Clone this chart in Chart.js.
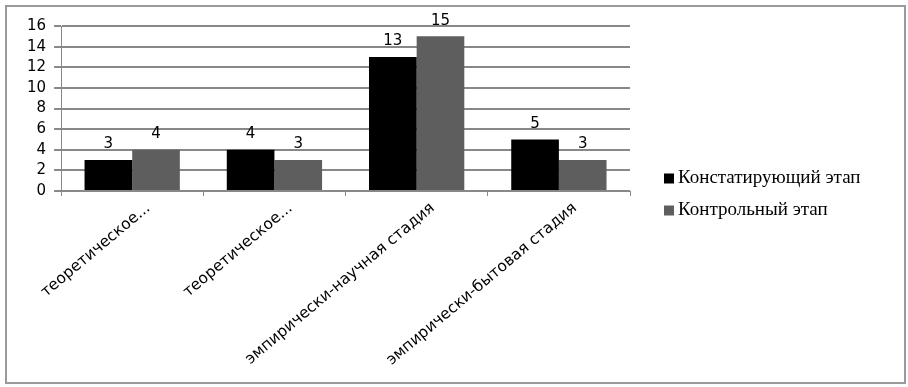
<!DOCTYPE html>
<html>
<head>
<meta charset="utf-8">
<script src="https://cdn.jsdelivr.net/npm/chart.js@4/dist/chart.umd.min.js"></script>
<style>
  body { margin: 0; background: #fff; }
  #wrap { position: absolute; left: 5px; top: 5px; width: 897px; height: 375px; border: 2px solid #9a9a9a; }
</style>
</head>
<body>
<div id="wrap"><canvas id="chart" width="897" height="375"></canvas></div>
<script>
    var categories = ['теоретическое...', 'теоретическое...', 'эмпирически-научная стадия', 'эмпирически-бытовая стадия'];
    var stage1 = [3, 4, 13, 5];
    var stage2 = [4, 3, 15, 3];
    var seriesNames = ['Констатирующий этап', 'Контрольный этап'];
    var seriesColors = ['#000000', '#5e5e5e'];

    // values over the bars
    var valueLabels = {
        id: 'valueLabels',
        afterDatasetsDraw: function (chart) {
            var ctx = chart.ctx;
            ctx.save();
            ctx.font = '15px "DejaVu Sans", sans-serif';
            ctx.fillStyle = '#000';
            ctx.textAlign = 'center';
            ctx.textBaseline = 'bottom';
            chart.data.datasets.forEach(function (ds, i) {
                chart.getDatasetMeta(i).data.forEach(function (bar, j) {
                    ctx.fillText(ds.data[j], bar.x, bar.y - 8);
                });
            });
            ctx.restore();
        }
    };

    // legend to the right of the plot, centred on the whole chart height
    var sideLegend = {
        id: 'sideLegend',
        afterDraw: function (chart) {
            var ctx = chart.ctx;
            var area = chart.chartArea;
            var x = area.right + 34;
            var yMid = chart.height / 2;
            ctx.save();
            ctx.font = '19px "Liberation Serif", "DejaVu Serif", serif';
            ctx.textBaseline = 'middle';
            chart.data.datasets.forEach(function (ds, i) {
                var y = yMid - 16 + i * 32;
                ctx.fillStyle = ds.backgroundColor;
                ctx.fillRect(x, y - 5, 10, 10);
                ctx.fillStyle = '#000';
                ctx.fillText(ds.label, x + 14, y);
            });
            ctx.restore();
        }
    };

    new Chart(document.getElementById('chart'), {
        type: 'bar',
        data: {
            labels: categories,
            datasets: [{
                label: seriesNames[0],
                data: stage1,
                backgroundColor: seriesColors[0],
                categoryPercentage: 0.67,
                barPercentage: 1.0
            }, {
                label: seriesNames[1],
                data: stage2,
                backgroundColor: seriesColors[1],
                categoryPercentage: 0.67,
                barPercentage: 1.0
            }]
        },
        options: {
            responsive: false,
            animation: false,
            layout: { padding: { left: 12, top: 19, right: 274, bottom: 2 } },
            plugins: {
                tooltip: { enabled: false },
                legend: { display: false }
            },
            scales: {
                x: {
                    afterFit: function (scale) { scale.height = 189; },
                    grid: { display: true, drawOnChartArea: false, color: '#888', lineWidth: 1, tickLength: 5 },
                    border: { color: '#888', width: 1 },
                    ticks: {
                        minRotation: 40, maxRotation: 40,
                        labelOffset: 16,
                        color: '#000',
                        font: { family: '"DejaVu Sans", sans-serif', size: 15.5 }
                    }
                },
                y: {
                    min: 0, max: 16,
                    ticks: {
                        stepSize: 2,
                        autoSkip: false,
                        color: '#000',
                        padding: 8,
                        font: { family: '"DejaVu Sans", sans-serif', size: 15 }
                    },
                    grid: { color: '#888', lineWidth: 2, tickLength: 7 },
                    border: { color: '#888', width: 1 }
                }
            }
        },
        plugins: [valueLabels, sideLegend]
    });
</script>
</body>
</html>
